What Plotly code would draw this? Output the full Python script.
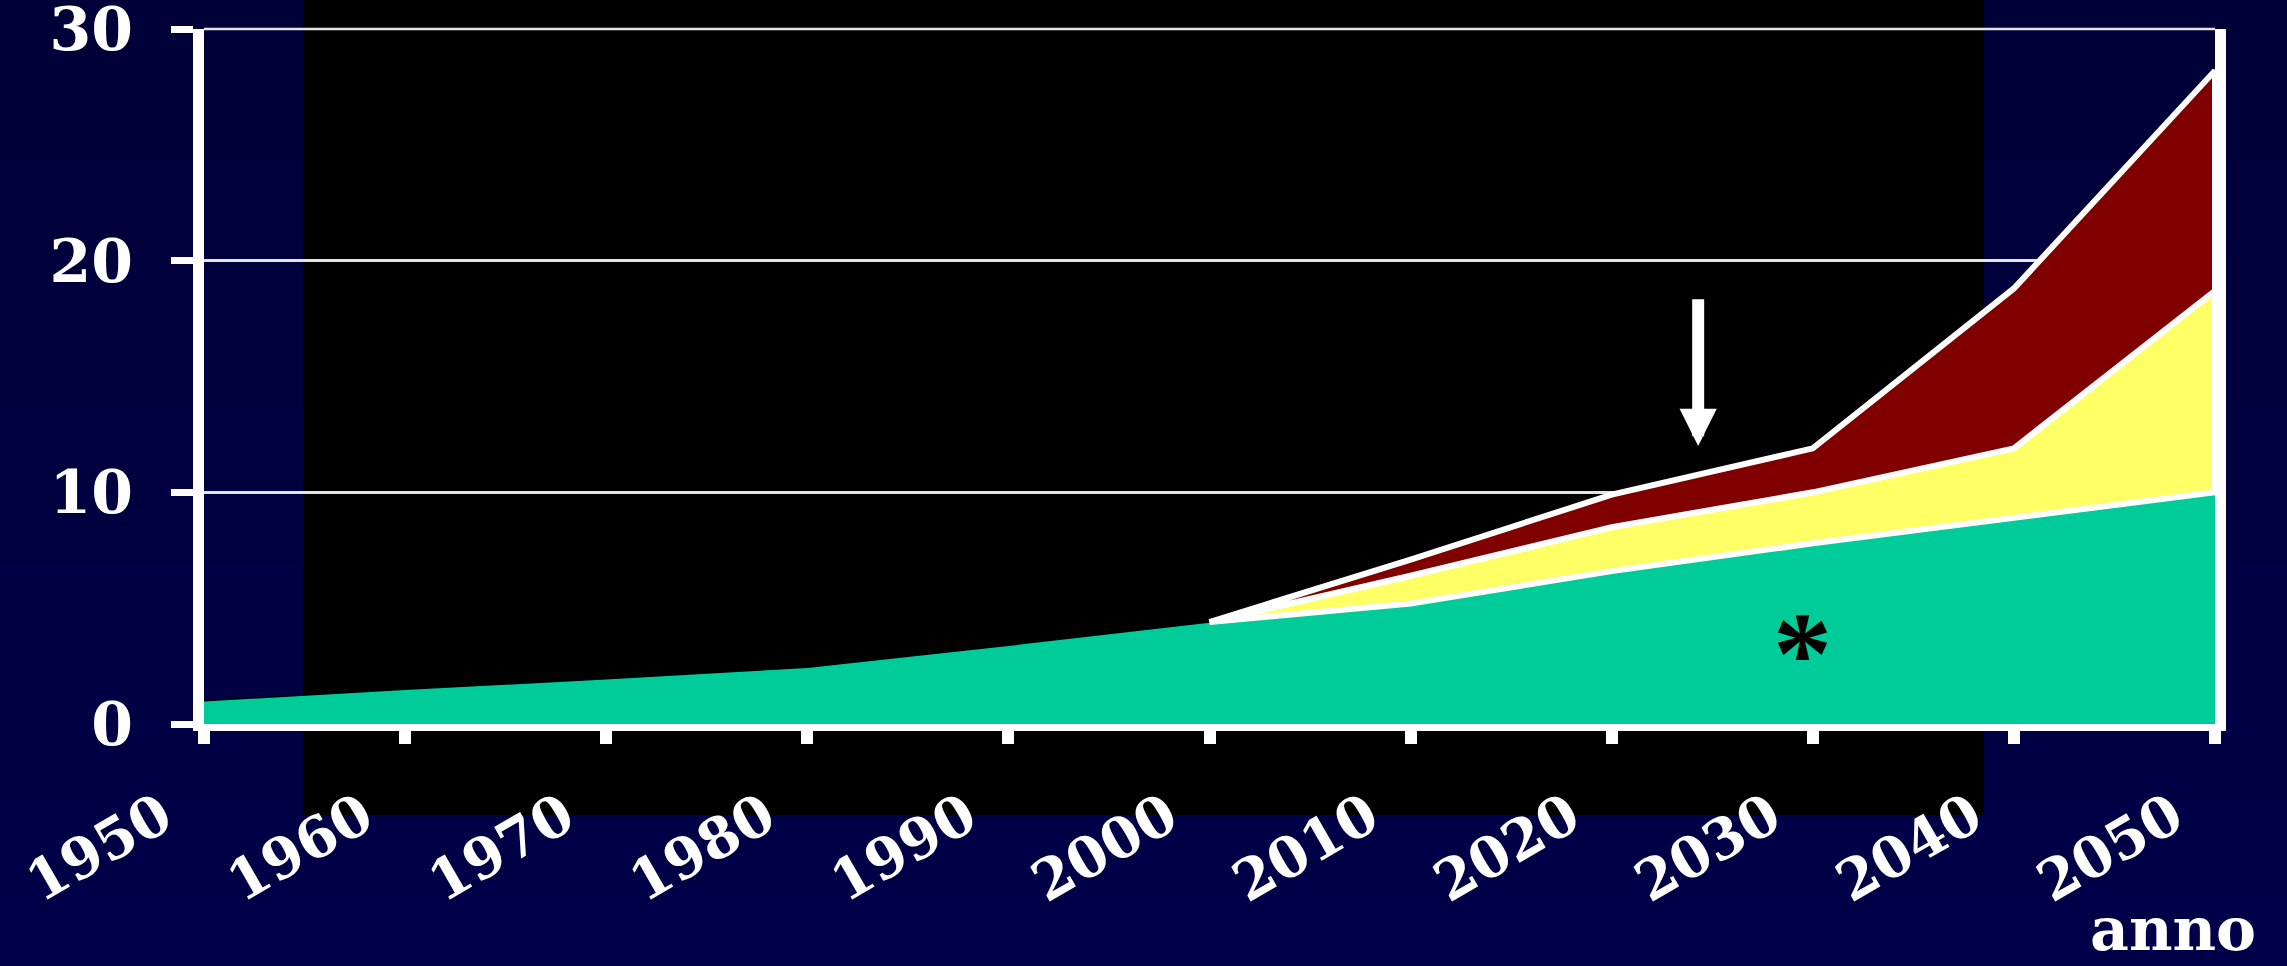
import plotly.graph_objects as go

# ---- data ----
years = [1950, 1960, 1970, 1980, 1990, 2000, 2010, 2020, 2030, 2040, 2050]
year_labels = ["1950", "1960", "1970", "1980", "1990", "2000",
               "2010", "2020", "2030", "2040", "2050"]
base_values = [1.0, 1.5, 1.95, 2.45, 3.4, 4.4, 5.2, 6.6, 7.8, 8.9, 10.0]

proj_years = [2000, 2010, 2020, 2030, 2040, 2050]
yellow_values = [0.0, 1.2, 1.9, 2.2, 3.0, 8.7]
red_values = [0.0, 0.7, 1.4, 1.9, 6.9, 9.5]

y_ticks = [0, 10, 20, 30]
y_labels = ["0", "10", "20", "30"]

arrow_year = 2024.3
arrow_tip = 12.0
arrow_tail = 18.4
star_year = 2029.5
star_value = 3.0

# ---- derived stacked tops ----
base_lookup = dict(zip(years, base_values))
base_proj = [base_lookup[y] for y in proj_years]
yellow_top = [b + v for b, v in zip(base_proj, yellow_values)]
red_top = [t + v for t, v in zip(yellow_top, red_values)]

W, H = 2287, 966
L, R, T, B = 204, 72, 29, 242

FONT = "DejaVu Serif"
GRID = "#e4e4e4"

fig = go.Figure()

fig.add_trace(go.Scatter(
    x=years, y=base_values, mode="lines", fill="tozeroy",
    fillcolor="#00CC99", line=dict(color="black", width=1.5),
    hoverinfo="skip", showlegend=False))

fig.add_trace(go.Scatter(
    x=proj_years + proj_years[::-1], y=yellow_top + base_proj[::-1],
    mode="lines", fill="toself", fillcolor="#FFFF66",
    line=dict(color="white", width=6), hoverinfo="skip", showlegend=False))

fig.add_trace(go.Scatter(
    x=proj_years + proj_years[::-1], y=red_top + yellow_top[::-1],
    mode="lines", fill="toself", fillcolor="#800000",
    line=dict(color="white", width=6), hoverinfo="skip", showlegend=False))

plot_w = W - L - R
plot_h = H - T - B

def py(px):
    """window pixel row -> paper y"""
    return (H - B - px) / plot_h

def pxp(px):
    """window pixel column -> paper x"""
    return (px - L) / plot_w

# subtle vertical gradient of the navy background
n_bands = 12
for i in range(n_bands):
    top = H * i / n_bands
    bot = H * (i + 1) / n_bands + 1
    blue = int(56 + (72 - 56) * i / (n_bands - 1))
    fig.add_shape(type="rect", xref="paper", yref="paper", layer="below",
                  x0=pxp(0), x1=pxp(W), y0=py(bot), y1=py(top),
                  fillcolor=f"rgb(0,0,{blue})", line=dict(width=0))

# black panel behind the plot
fig.add_shape(type="rect", xref="paper", yref="paper", layer="below",
              x0=pxp(303), x1=pxp(1984), y0=py(815), y1=py(0),
              fillcolor="black", line=dict(width=0))

# top grid line (plotly drops grid lines at the range edge)
fig.add_shape(type="line", xref="paper", yref="paper", layer="below",
              x0=0, x1=1, y0=1, y1=1, line=dict(color=GRID, width=2.5))

# arrow
fig.add_annotation(x=arrow_year, y=arrow_tip, ax=arrow_year, ay=arrow_tail,
                   xref="x", yref="y", axref="x", ayref="y", text="",
                   showarrow=True, arrowhead=2, arrowsize=0.62, arrowwidth=12,
                   arrowcolor="white", standoff=0, startstandoff=0)

# asterisk
fig.add_annotation(x=star_year, y=star_value, xref="x", yref="y", text="*",
                   showarrow=False, yanchor="middle", xanchor="center",
                   font=dict(family="Liberation Serif", size=118, color="black",
                             weight="bold"))

# axis title "anno"
fig.add_annotation(x=pxp(2258), y=py(966), xref="paper", yref="paper",
                   text="anno", showarrow=False, xanchor="right", yanchor="bottom",
                   font=dict(family=FONT, size=60, color="white", weight="bold"))

fig.update_layout(
    width=W, height=H,
    margin=dict(l=L, r=R, t=T, b=B, pad=0, autoexpand=False),
    paper_bgcolor="#00003f",
    plot_bgcolor="rgba(0,0,0,0)",
    showlegend=False,
    xaxis=dict(
        range=[1950, 2050], tickmode="array", tickvals=years, ticktext=year_labels,
        tickangle=-30, ticks="outside", ticklen=13, tickwidth=12, tickcolor="white",
        showline=True, linecolor="white", linewidth=7, showgrid=False, zeroline=False,
        tickfont=dict(family=FONT, size=56, color="white", weight="bold"),
        ticklabelstandoff=18, ticklabelshift=-42, automargin=False,
    ),
    yaxis=dict(
        range=[0, 30], tickmode="array", tickvals=y_ticks, ticktext=y_labels,
        ticks="outside", ticklen=22, tickwidth=7, tickcolor="white",
        showline=True, linecolor="white", linewidth=11, mirror=True,
        showgrid=True, gridcolor=GRID, gridwidth=2.5, zeroline=False,
        tickfont=dict(family=FONT, size=60, color="white", weight="bold"),
        ticklabelstandoff=26, ticklabeloverflow="allow", automargin=False,
    ),
)

fig.write_html("out.html")
